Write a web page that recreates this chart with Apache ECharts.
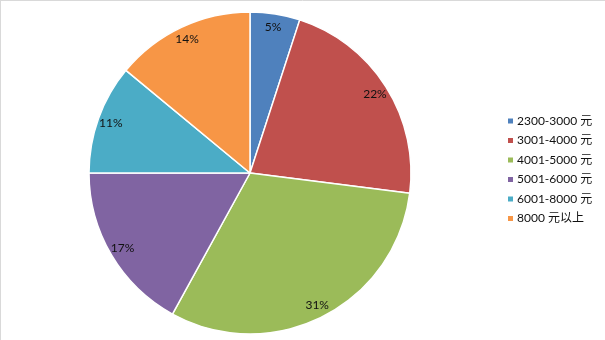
<!DOCTYPE html>
<html><head><meta charset="utf-8">
<script src="https://cdn.jsdelivr.net/npm/echarts@6/dist/echarts.min.js"></script>
<style>html,body{margin:0;padding:0;background:#fff}#c{width:605px;height:340px}</style>
</head><body><div id="c"></div>
<script>
const categories = ['2300-3000 元','3001-4000 元','4001-5000 元','5001-6000 元','6001-8000 元','8000 元以上'];
const values = [5, 22, 31, 17, 11, 14];
const colors = ['#4F81BD','#C0504D','#9BBB59','#8064A2','#4BACC6','#F79646'];

const data = categories.map((n,i)=>({name:n, value:values[i]}));
const chart = echarts.init(document.getElementById('c'));
chart.setOption({
  animation:false,
  color: colors,
  graphic:[
    {type:'line', shape:{x1:0.5,y1:0,x2:0.5,y2:340}, style:{stroke:'#d9d9d9',lineWidth:1}},
    {type:'line', shape:{x1:0,y1:0.5,x2:605,y2:0.5}, style:{stroke:'#d9d9d9',lineWidth:1}}
  ],
  legend:{
    orient:'vertical', left:501, top:110,
    itemWidth:7, itemHeight:7, itemGap:7.5,
    icon:'rect',
    textStyle:{fontSize:12, color:'#111', fontFamily:'Lato, "Noto Sans CJK SC", sans-serif', padding:[0,0,0,-2]},
    data: categories
  },
  series:[
    {type:'pie', center:[250,173], radius:[0,161], startAngle:90, clockwise:true,
     data:data, label:{show:false}, labelLine:{show:false},
     itemStyle:{borderColor:'#fff', borderWidth:1.5}, emphasis:{disabled:true}},
    {type:'pie', center:[250,173], radius:[129,161], startAngle:90, clockwise:true, silent:true,
     data:data, itemStyle:{color:'transparent'}, labelLine:{show:false},
     label:{show:true, position:'inside', formatter:'{d}%', fontSize:12, color:'#111', fontFamily:'Lato, sans-serif'},
     emphasis:{disabled:true}}
  ]
});
</script></body></html>
